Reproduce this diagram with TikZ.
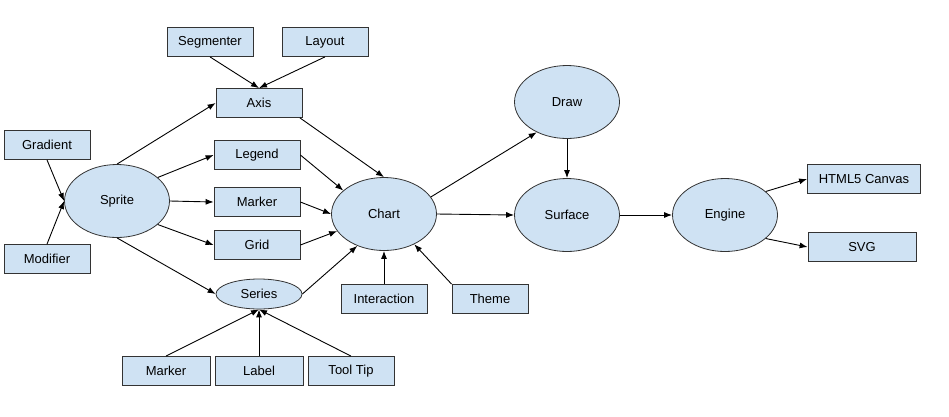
\documentclass[tikz,border=0pt]{standalone}
\usepackage{fontspec}
\setmainfont{Liberation Sans}
\usetikzlibrary{arrows.meta,shapes.geometric}
\definecolor{nodeblue}{RGB}{207,226,243}

\tikzset{
  box/.style={draw=black!80, fill=nodeblue, line width=0.8pt, minimum width=86pt, minimum height=29pt, inner sep=0pt, font=\fontsize{13}{15}\selectfont},
  oval/.style={draw=black!80, fill=nodeblue, ellipse, line width=0.8pt, minimum width=105pt, minimum height=73pt, inner sep=0pt, font=\fontsize{13}{15}\selectfont},
  link/.style={line width=0.9pt, -{Latex[length=8pt,width=6pt]}}
}

\begin{document}
\begin{tikzpicture}[x=1pt,y=-1pt]
\useasboundingbox (0,0) rectangle (949,416);

% boxes
\node[box] (segmenter) at (210,42) {Segmenter};
\node[box] (layout) at (325,42) {Layout};
\node[box] (axis) at (259,103) {Axis};
\node[box] (gradient) at (47,145) {Gradient};
\node[box] (modifier) at (47,259) {Modifier};
\node[box] (legend) at (257,155) {Legend};
\node[box] (marker) at (257,202) {Marker};
\node[box] (grid) at (257,245) {Grid};
\node[box] (interaction) at (384,299) {Interaction};
\node[box, minimum width=76pt] (theme) at (490,299) {Theme};
\node[box, minimum width=88pt] (tipmarker) at (166,371) {Marker};
\node[box, minimum width=88pt] (label) at (259,371) {Label};
\node[box] (tooltip) at (351,371) {Tool Tip};
\node[box, minimum width=113pt] (html) at (864,179) {HTML5 Canvas};
\node[box, minimum width=108pt] (svg) at (862,247) {SVG};

% ellipses
\node[oval] (sprite) at (117,201) {Sprite};
\node[oval, minimum width=86pt, minimum height=30pt] (series) at (259,294) {Series};
\node[oval] (chart) at (384,214) {Chart};
\node[oval] (draw) at (567,102) {Draw};
\node[oval] (surface) at (567,215) {Surface};
\node[oval] (engine) at (725,215) {Engine};

% connectors
\draw[link] (segmenter.south) -- (axis.north);
\draw[link] (layout.south) -- (axis.north);
\draw[link] (gradient.south) -- (sprite.west);
\draw[link] (modifier.north) -- (sprite.west);
\draw[link] (sprite.north) -- (axis.west);
\draw[link] (sprite.30) -- (legend.west);
\draw[link] (sprite.east) -- (marker.west);
\draw[link] (sprite.-30) -- (grid.west);
\draw[link] (sprite.south) -- (series.west);
\draw[link] (axis.-20) -- (chart.north);
\draw[link] (legend.east) -- (chart.150);
\draw[link] (marker.east) -- (chart.west);
\draw[link] (grid.east) -- (chart.-160);
\draw[link] (series.east) -- (chart.-130);
\draw[link] (interaction.north) -- (chart.south);
\draw[link] (theme.north west) -- (chart.-45);
\draw[link] (tipmarker.north) -- (series.south);
\draw[link] (label.north) -- (series.south);
\draw[link] (tooltip.north) -- (series.south);
\draw[link] (chart.20) -- (draw.-135);
\draw[link] (chart.east) -- (surface.west);
\draw[link] (draw.south) -- (surface.north);
\draw[link] (surface.east) -- (engine.west);
\draw[link] (engine.30) -- (html.west);
\draw[link] (engine.-30) -- (svg.west);
\end{tikzpicture}
\end{document}
